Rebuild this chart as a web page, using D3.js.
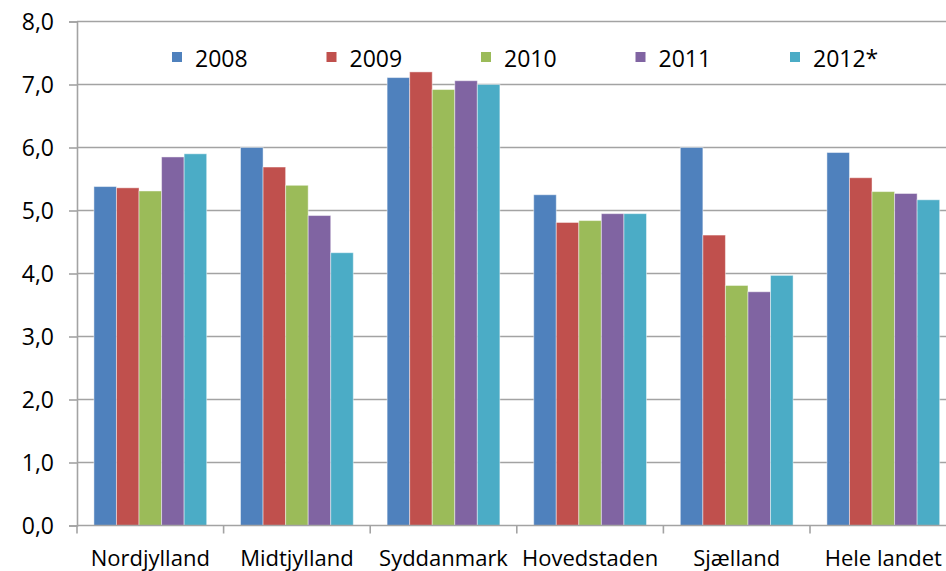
<!DOCTYPE html>
<html>
<head>
<meta charset="utf-8">
<script src="https://cdn.jsdelivr.net/npm/d3@7"></script>
<style>
  body { margin: 0; background: #fff; }
  svg text { font-family: "Open Sans", sans-serif; fill: #000; }
</style>
</head>
<body>
<svg id="canvas"></svg>
<script>
const regions = ["Nordjylland", "Midtjylland", "Syddanmark", "Hovedstaden", "Sjælland", "Hele landet"];
const years = ["2008", "2009", "2010", "2011", "2012*"];
const colors = ["#4f81bd", "#c0504d", "#9bbb59", "#8064a2", "#4bacc6"];
const yTicks = [0, 1, 2, 3, 4, 5, 6, 7, 8];

// one array per year, in region order
const v2008 = [5.38, 6.0, 7.11, 5.25, 6.0, 5.92];
const v2009 = [5.36, 5.69, 7.2, 4.81, 4.61, 5.52];
const v2010 = [5.31, 5.4, 6.92, 4.84, 3.81, 5.3];
const v2011 = [5.85, 4.92, 7.06, 4.95, 3.71, 5.27];
const v2012 = [5.9, 4.33, 7.0, 4.95, 3.97, 5.17];
const series = [v2008, v2009, v2010, v2011, v2012];

const width = 946,
  height = 571;
const plotLeft = 77,
  plotBottom = 525.5,
  plotTop = 21.5,
  step = 146.6;

const canvas = d3.select("#canvas").attr("width", width).attr("height", height);

const xScale = d3
  .scaleBand()
  .domain(regions)
  .range([plotLeft, plotLeft + step * regions.length])
  .padding(0);

const xSub = d3.scaleBand().domain(years).range([0, xScale.bandwidth()]).paddingInner(0).paddingOuter(0.75);

const yScale = d3.scaleLinear().domain([0, 8]).range([plotBottom, plotTop]);

const fmt = (d) => d3.format(".1f")(d).replace(".", ",");

// gridlines
canvas
  .append("g")
  .selectAll("line")
  .data(yTicks.slice(1))
  .join("line")
  .attr("x1", plotLeft)
  .attr("x2", width)
  .attr("y1", (d) => yScale(d))
  .attr("y2", (d) => yScale(d))
  .attr("stroke", "#a3a3a3")
  .attr("stroke-width", 1.6);

// y axis
const yAxis = d3.axisLeft(yScale).tickValues(yTicks).tickFormat(fmt).tickSize(8).tickPadding(15);
const gy = canvas.append("g").attr("transform", `translate(${plotLeft}, 0)`).call(yAxis);
gy.select(".domain").attr("stroke", "#a3a3a3").attr("stroke-width", 1.6);
gy.selectAll(".tick line").attr("stroke", "#a3a3a3").attr("stroke-width", 1.6);
gy.selectAll(".tick text").style("font-size", "23px").attr("dy", "0.36em");

// bars
const groups = canvas
  .append("g")
  .selectAll("g")
  .data(regions)
  .join("g")
  .attr("transform", (d) => `translate(${xScale(d)}, 0)`);

groups
  .selectAll("rect")
  .data((r, i) => years.map((y, j) => ({ year: y, value: series[j][i], color: colors[j] })))
  .join("rect")
  .attr("x", (d) => xSub(d.year))
  .attr("width", xSub.bandwidth())
  .attr("y", (d) => yScale(d.value))
  .attr("height", (d) => plotBottom - yScale(d.value))
  .attr("fill", (d) => d.color)
  .attr("stroke", "#ffffff")
  .attr("stroke-opacity", 0.45)
  .attr("stroke-width", 1);

// x axis
const gx = canvas.append("g").attr("transform", `translate(0, ${plotBottom})`);
gx.append("line")
  .attr("x1", plotLeft)
  .attr("x2", width)
  .attr("stroke", "#a3a3a3")
  .attr("stroke-width", 1.6);
gx.selectAll(".cat-tick")
  .data(regions)
  .join("line")
  .attr("class", "cat-tick")
  .attr("x1", (d) => xScale(d))
  .attr("x2", (d) => xScale(d))
  .attr("y1", 0)
  .attr("y2", 8)
  .attr("stroke", "#a3a3a3")
  .attr("stroke-width", 1.6);
gx.selectAll("text")
  .data(regions)
  .join("text")
  .attr("x", (d) => xScale(d) + xScale.bandwidth() / 2)
  .attr("y", 40.5)
  .attr("text-anchor", "middle")
  .style("font-size", "22px")
  .text((d) => d);

// legend
const legendX = d3.scaleLinear().domain([0, 4]).range([172, 790]);
const legend = canvas
  .append("g")
  .selectAll("g")
  .data(years)
  .join("g")
  .attr("transform", (d, i) => `translate(${legendX(i)}, 52)`);
legend
  .append("rect")
  .attr("width", 10)
  .attr("height", 10)
  .attr("fill", (d, i) => colors[i]);
legend
  .append("text")
  .attr("x", 23)
  .attr("y", 14.5)
  .style("font-size", "23px")
  .text((d) => d);
</script>
</body>
</html>
